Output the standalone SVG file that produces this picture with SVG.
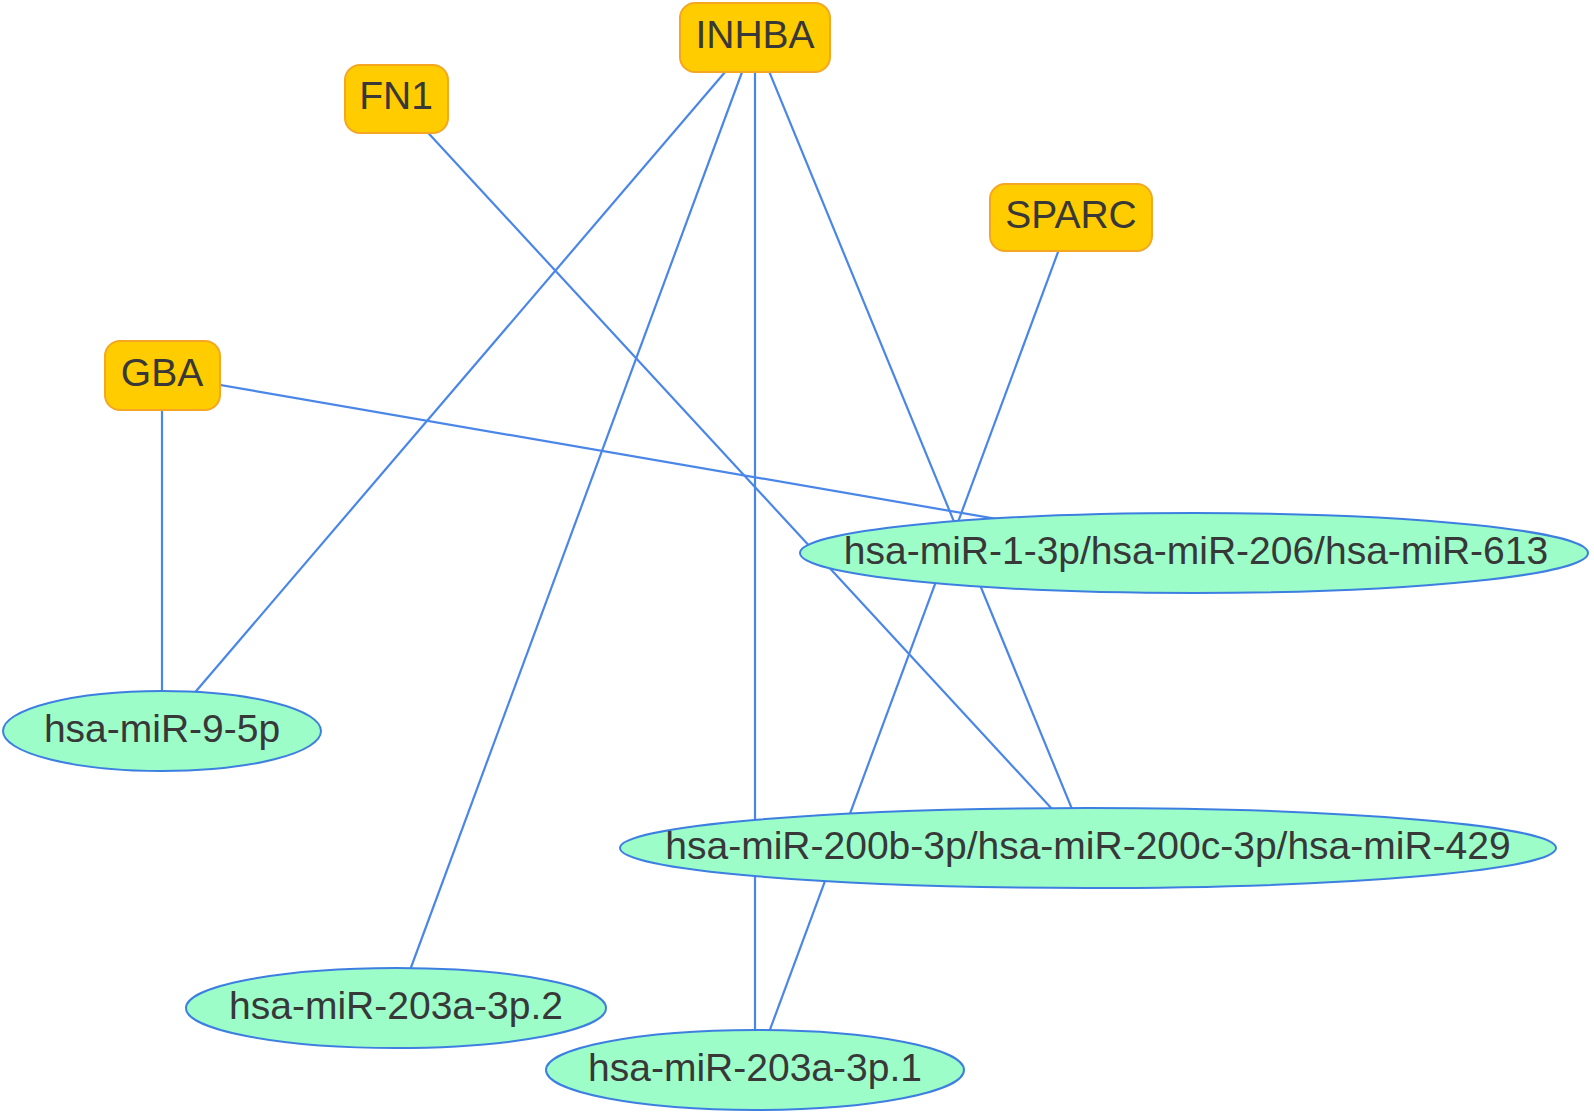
<svg xmlns="http://www.w3.org/2000/svg" width="1594" height="1114" viewBox="0 0 1594 1114">
<style>
.edge{stroke:#4a86e8;stroke-width:2.2;fill:none}
.gene rect{fill:#ffcc00;stroke:#f5a623;stroke-width:2}
.mir ellipse{fill:#9dfdc8;stroke:#3d7fe0;stroke-width:2}
text{font-family:"Liberation Sans",Arial,sans-serif;font-size:39px;fill:#383838;text-anchor:middle}
</style>
<rect width="1594" height="1114" fill="#fff"/>
<g id="connectors">
<line class="edge" x1="755" y1="37" x2="162" y2="731"/>
<line class="edge" x1="755" y1="37" x2="396" y2="1008"/>
<line class="edge" x1="755" y1="37" x2="755" y2="1070"/>
<line class="edge" x1="755" y1="37" x2="1088" y2="848"/>
<line class="edge" x1="1071" y1="217" x2="755" y2="1070"/>
<line class="edge" x1="396" y1="98" x2="1088" y2="848"/>
<line class="edge" x1="162" y1="375" x2="1194" y2="553"/>
<line class="edge" x1="162" y1="375" x2="162" y2="731"/>
</g>
<g id="node-mir-1" class="mir"><ellipse cx="1194" cy="553" rx="394" ry="40"/><text x="1196" y="564">hsa-miR-1-3p/hsa-miR-206/hsa-miR-613</text></g>
<g id="node-mir-9" class="mir"><ellipse cx="162" cy="731" rx="159" ry="40"/><text x="162" y="742">hsa-miR-9-5p</text></g>
<g id="node-mir-200" class="mir"><ellipse cx="1088" cy="848" rx="468" ry="40"/><text x="1088" y="859">hsa-miR-200b-3p/hsa-miR-200c-3p/hsa-miR-429</text></g>
<g id="node-mir-203-2" class="mir"><ellipse cx="396" cy="1008" rx="210" ry="40"/><text x="396" y="1019">hsa-miR-203a-3p.2</text></g>
<g id="node-mir-203-1" class="mir"><ellipse cx="755" cy="1070" rx="209" ry="40"/><text x="755" y="1081">hsa-miR-203a-3p.1</text></g>
<g id="node-INHBA" class="gene"><rect x="680" y="3" width="150" height="69" rx="15"/><text x="755" y="48">INHBA</text></g>
<g id="node-FN1" class="gene"><rect x="345" y="65" width="103" height="68" rx="15"/><text x="396" y="109">FN1</text></g>
<g id="node-SPARC" class="gene"><rect x="990" y="184" width="162" height="67" rx="15"/><text x="1071" y="228">SPARC</text></g>
<g id="node-GBA" class="gene"><rect x="105" y="341" width="115" height="69" rx="15"/><text x="162" y="386">GBA</text></g>
</svg>
